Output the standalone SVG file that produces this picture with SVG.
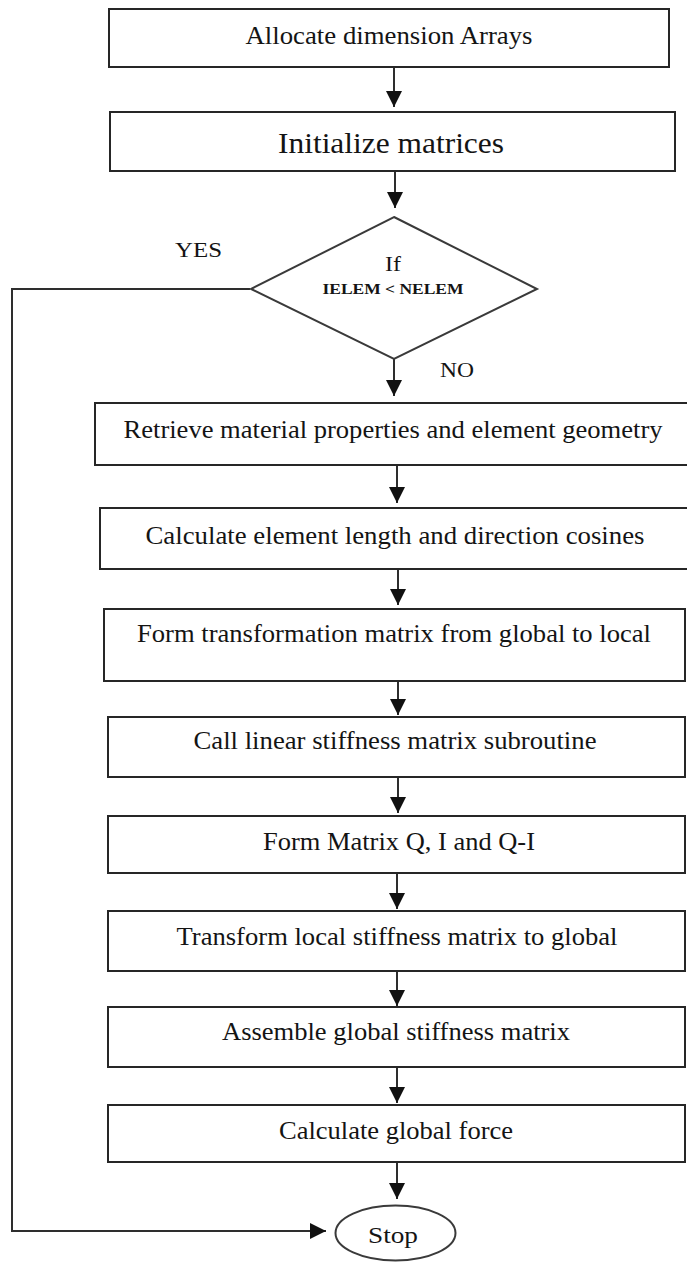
<svg xmlns="http://www.w3.org/2000/svg" width="687" height="1262" viewBox="0 0 687 1262">
  <defs>
    <style>
      .box { fill: #ffffff; stroke: #262626; stroke-width: 2; }
      .dia { fill: #ffffff; stroke: #3a3a3a; stroke-width: 2; }
      .conn { fill: none; stroke: #2e2e2e; stroke-width: 2; }
      .lbl { font-family: "Liberation Serif", "Times New Roman", serif; fill: #141414; text-anchor: middle; }
      .side { font-family: "Liberation Serif", "Times New Roman", serif; fill: #141414; }
    </style>
    <marker id="arrow" markerUnits="userSpaceOnUse" markerWidth="16" markerHeight="16" viewBox="0 0 14 14" refX="14" refY="7" orient="auto">
      <path d="M0,0 L14,7 L0,14 Z" fill="#111111"/>
    </marker>
  </defs>
  <rect width="687" height="1262" fill="#ffffff"/>

  <!-- flow connectors -->
  <g id="connectors">
    <line class="conn" x1="394" y1="67" x2="394" y2="107" marker-end="url(#arrow)"/>
    <line class="conn" x1="395" y1="171" x2="395" y2="208" marker-end="url(#arrow)"/>
    <line class="conn" x1="394" y1="359" x2="394" y2="396" marker-end="url(#arrow)"/>
    <line class="conn" x1="397" y1="465" x2="397" y2="503" marker-end="url(#arrow)"/>
    <line class="conn" x1="398" y1="569" x2="398" y2="605" marker-end="url(#arrow)"/>
    <line class="conn" x1="398" y1="681" x2="398" y2="715" marker-end="url(#arrow)"/>
    <line class="conn" x1="398" y1="777" x2="398" y2="813" marker-end="url(#arrow)"/>
    <line class="conn" x1="397" y1="873" x2="397" y2="909" marker-end="url(#arrow)"/>
    <line class="conn" x1="397" y1="971" x2="397" y2="1006" marker-end="url(#arrow)"/>
    <line class="conn" x1="397" y1="1067" x2="397" y2="1103" marker-end="url(#arrow)"/>
    <line class="conn" x1="397" y1="1162" x2="397" y2="1199" marker-end="url(#arrow)"/>
    <!-- YES branch: loop exit straight to Stop -->
    <polyline class="conn" points="250,289 12,289 12,1231 326,1231" marker-end="url(#arrow)"/>
    <text class="side" x="175" y="257" font-size="22" textLength="47" lengthAdjust="spacingAndGlyphs">YES</text>
    <text class="side" x="440" y="377" font-size="22" textLength="34" lengthAdjust="spacingAndGlyphs">NO</text>
  </g>

  <g id="allocate">
    <rect class="box" x="109" y="9" width="560" height="58"/>
    <text class="lbl" x="389" y="44" font-size="26" textLength="287" lengthAdjust="spacingAndGlyphs">Allocate dimension Arrays</text>
  </g>

  <g id="initialize">
    <rect class="box" x="110" y="112" width="565" height="59"/>
    <text class="lbl" x="391" y="153" font-size="30" textLength="226" lengthAdjust="spacingAndGlyphs">Initialize matrices</text>
  </g>

  <g id="decision">
    <polygon class="dia" points="394,217 537,289 394,359 251,289"/>
    <text class="lbl" x="393" y="271" font-size="20" textLength="16" lengthAdjust="spacingAndGlyphs">If</text>
    <text class="lbl" x="393" y="294" font-size="15" font-weight="bold" textLength="141" lengthAdjust="spacingAndGlyphs">IELEM &lt; NELEM</text>
  </g>

  <g id="retrieve">
    <rect class="box" x="95" y="403" width="593" height="62"/>
    <text class="lbl" x="393" y="438" font-size="25" textLength="539" lengthAdjust="spacingAndGlyphs">Retrieve material properties and element geometry</text>
  </g>

  <g id="length-cosines">
    <rect class="box" x="100" y="508" width="588" height="61"/>
    <text class="lbl" x="395" y="544" font-size="25" textLength="499" lengthAdjust="spacingAndGlyphs">Calculate element length and direction cosines</text>
  </g>

  <g id="transformation">
    <rect class="box" x="104" y="609" width="581" height="72"/>
    <text class="lbl" x="394" y="642" font-size="25" textLength="514" lengthAdjust="spacingAndGlyphs">Form transformation matrix from global to local</text>
  </g>

  <g id="linear-stiffness">
    <rect class="box" x="108" y="717" width="577" height="60"/>
    <text class="lbl" x="395" y="749" font-size="26" textLength="403" lengthAdjust="spacingAndGlyphs">Call linear stiffness matrix subroutine</text>
  </g>

  <g id="matrix-q-i">
    <rect class="box" x="108" y="816" width="577" height="57"/>
    <text class="lbl" x="399" y="850" font-size="26" textLength="272" lengthAdjust="spacingAndGlyphs">Form Matrix Q, I and Q-I</text>
  </g>

  <g id="to-global">
    <rect class="box" x="108" y="911" width="577" height="60"/>
    <text class="lbl" x="397" y="945" font-size="26" textLength="441" lengthAdjust="spacingAndGlyphs">Transform local stiffness matrix to global</text>
  </g>

  <g id="assemble">
    <rect class="box" x="108" y="1007" width="577" height="60"/>
    <text class="lbl" x="396" y="1040" font-size="26" textLength="348" lengthAdjust="spacingAndGlyphs">Assemble global stiffness matrix</text>
  </g>

  <g id="global-force">
    <rect class="box" x="108" y="1105" width="577" height="57"/>
    <text class="lbl" x="396" y="1139" font-size="26" textLength="234" lengthAdjust="spacingAndGlyphs">Calculate global force</text>
  </g>

  <g id="stop">
    <ellipse class="dia" cx="395.5" cy="1233" rx="60" ry="27.5"/>
    <text class="lbl" x="393" y="1243" font-size="24" textLength="50" lengthAdjust="spacingAndGlyphs">Stop</text>
  </g>
</svg>
